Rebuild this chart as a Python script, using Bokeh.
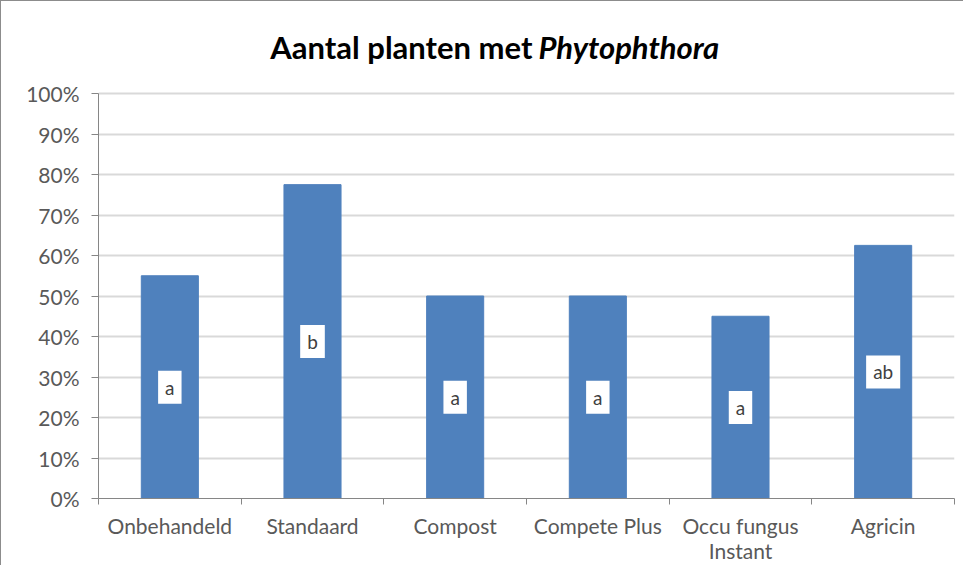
from bokeh.plotting import figure
from bokeh.models import (FactorRange, Range1d, LinearAxis, CategoricalAxis, FixedTicker,
                          NumeralTickFormatter, ColumnDataSource)
from bokeh.core.properties import value
from bokeh.embed import file_html
from bokeh.resources import INLINE

categories = ["Onbehandeld", "Standaard", "Compost", "Compete Plus", "Occu fungus\nInstant", "Agricin"]
values = [0.55, 0.775, 0.50, 0.50, 0.45, 0.625]
letters = ["a", "b", "a", "a", "a", "ab"]
y_ticks = [0.0, 0.1, 0.2, 0.3, 0.4, 0.5, 0.6, 0.7, 0.8, 0.9, 1.0]
title_parts = ["Aantal planten met", "Phytophthora"]

FONT = "Lato"
BAR = "#4F81BD"
AXIS = "#868686"
TXT = "#595959"

src = ColumnDataSource(dict(cat=categories, val=values, lab=letters,
                            mid=[v / 2 for v in values]))

# the frame extends above 100% so the title can sit inside it
p = figure(frame_width=856, frame_height=477, output_backend="svg", toolbar_location=None,
           x_range=FactorRange(*categories), y_range=Range1d(0, 477 / 405),
           x_axis_location=None,
           min_border_left=97, min_border_right=9, min_border_top=20, min_border_bottom=10)
p.outline_line_color = None
p.xgrid.grid_line_color = None
p.ygrid.grid_line_color = "#d9d9d9"
p.ygrid.grid_line_width = 2
p.ygrid.ticker = FixedTicker(ticks=y_ticks)

p.vbar(x="cat", top="val", width=0.4, source=src, fill_color=BAR, line_color=BAR)

# y axis
ya = p.yaxis[0]
ya.ticker = FixedTicker(ticks=y_ticks)
ya.bounds = (0, 1)
ya.formatter = NumeralTickFormatter(format="0%")
ya.axis_line_color = AXIS
ya.major_tick_line_color = AXIS
ya.major_tick_out = 7
ya.major_tick_in = 0
ya.minor_tick_line_color = None
ya.major_label_text_font = FONT
ya.major_label_text_font_size = "21px"
ya.major_label_text_color = TXT
ya.major_label_standoff = 12

# x axis: boundary ticks (synthetic coordinates), then category labels
ta = LinearAxis(ticker=FixedTicker(ticks=list(range(len(categories) + 1))),
                axis_line_color=AXIS, major_tick_line_color=AXIS, major_tick_out=6, major_tick_in=0,
                minor_tick_line_color=None, major_label_text_font_size="0px",
                major_label_text_color=None, major_label_standoff=0)
p.add_layout(ta, "below")
ca = CategoricalAxis(axis_line_color=None, major_tick_line_color=None,
                     major_label_text_font=FONT, major_label_text_font_size="21px",
                     major_label_text_color=TXT, major_label_standoff=2,
                     major_label_text_line_height=1.0)
p.add_layout(ca, "below")

p.text(x="cat", y="mid", text="lab", source=src, text_align="center",
       text_baseline="middle", text_font=value(FONT), text_font_size="19px",
       text_color="#404040", background_fill_color="white",
       padding=dict(left=7, right=7, top=5, bottom=5))

# title: bold part and bold-italic part, placed in synthetic x coordinates
p.text(x=[3.042], y=[1.116], text=[title_parts[0]], text_align="right", text_baseline="middle",
       text_font=value(FONT), text_font_style="bold", text_font_size="31px", text_color="black")
p.text(x=[3.084], y=[1.116], text=[title_parts[1]], text_align="left", text_baseline="middle",
       text_font=value(FONT), text_font_style="bold italic", text_font_size="31px", text_color="black")

p.styles = {"border-left": "1px solid #8c8c8c", "border-top": "1px solid #8c8c8c"}

open("out.html", "w").write(file_html(p, INLINE))
